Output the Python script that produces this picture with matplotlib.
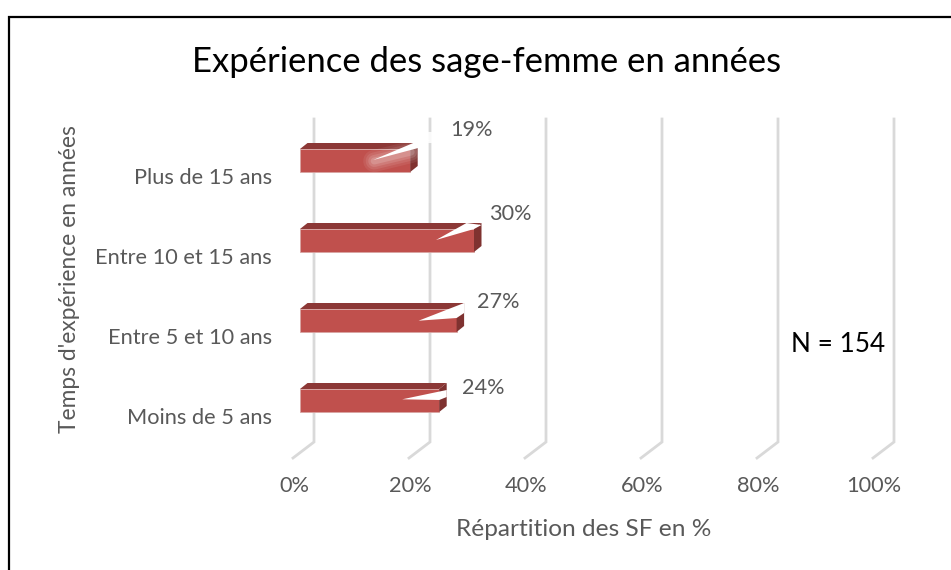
import matplotlib
matplotlib.use("Agg")
import matplotlib.pyplot as plt
from matplotlib.patches import Polygon, Rectangle
from matplotlib.transforms import Affine2D, blended_transform_factory

plt.rcParams['font.family'] = ['Lato', 'DejaVu Sans']

categories = ["Moins de 5 ans", "Entre 5 et 10 ans", "Entre 10 et 15 ans", "Plus de 15 ans"]
values = [24, 27, 30, 19]
x_ticks = [0, 20, 40, 60, 80, 100]
title = "Expérience des sage-femme en années"
xlabel = "Répartition des SF en %"
ylabel = "Temps d'expérience en années"
note = "N = 154"

W, H = 951, 570
PX_PER_PCT = 5.8
PX_PER_CAT = 80
X0_PX = 300          # pixel of 0 % on bar front
Y0_PX = 400.5        # pixel of first category centre
BAR_H_PX = 23
DX, DY = 7.5, 6      # bar depth (right, up)

fig = plt.figure(figsize=(W/100, H/100), dpi=100, facecolor='white')
ax = fig.add_axes([0, 0, 1, 1])
ax.set_xlim(-X0_PX/PX_PER_PCT, (W-X0_PX)/PX_PER_PCT)
ax.set_ylim((Y0_PX-H)/PX_PER_CAT, Y0_PX/PX_PER_CAT)
ax.patch.set_alpha(0)
for s in ax.spines.values():
    s.set_visible(False)


def off(dx, dy):
    """Data transform shifted by dx, dy pixels (dy up)."""
    return ax.transData + Affine2D().translate(dx, dy)


pix = Affine2D()

# Chart frame: only the top and left edges fall inside the picture
ax.plot([8.5, 8.5, W], [0, H-16.5, H-16.5], transform=pix, color='black', lw=1.6,
        solid_joinstyle='miter', zorder=0)

# floor + back wall grid lines, stepped from the percent scale
GRID = '#d9d9d9'
BACK_DX, FRONT_DX = 14, -7
BASE_PX = H - 442
FRONT_PX = H - 458
TOP_PX = H - 119
for t in x_ticks:
    x, _ = ax.transData.transform((t, 0))
    ax.plot([x+BACK_DX, x+BACK_DX, x+FRONT_DX], [TOP_PX, BASE_PX, FRONT_PX],
            transform=pix, color=GRID, lw=2.0, solid_joinstyle='miter', zorder=1)

# Bars
HALF = BAR_H_PX/2/PX_PER_CAT
bar_h = BAR_H_PX/PX_PER_CAT
FRONT, TOP, SIDE = '#c0504d', '#8c3836', '#7f3230'
ax.barh(range(len(values)), values, height=bar_h, color=FRONT, edgecolor='#d9a5a3',
        linewidth=0.6, zorder=3)
for i, v in enumerate(values):
    x_end, y_top = ax.transData.transform((v, i+HALF))
    x_start, y_bot = ax.transData.transform((0, i-HALF))
    ax.add_patch(Polygon([(x_start, y_top), (x_end, y_top), (x_end+DX, y_top+DY), (x_start+DX, y_top+DY)],
                         transform=pix, fc=TOP, ec='none', zorder=3))
    ax.add_patch(Polygon([(x_end, y_top), (x_end+DX, y_top+DY), (x_end+DX, y_bot+DY), (x_end, y_bot)],
                         transform=pix, fc=SIDE, ec='none', zorder=3))

# Data label leaders: offsets in px from the front-top corner of each bar end (dy up)
leaders = {
    3: [(-37, -11), (3, 6), (20, 9), (8, 1)],
    2: [(-38, -11), (-7.5, 6), (7.5, 4), (0, 0)],
    1: [(-38, -11.7), (7.5, 6), (7.5, -4), (0, -9)],
    0: [(-37, -10.3), (7.5, -1), (7.5, -8), (0, -11)],
}
for i, pts in leaders.items():
    x_end, y_top = ax.transData.transform((values[i], i+HALF))
    ax.add_patch(Polygon([(x_end+a, y_top+b) for a, b in pts], transform=pix,
                         fc='white', ec='none', zorder=5))

# glow on the top bar
x_end, y_top = ax.transData.transform((values[3], 3+HALF))
for lw, al in [(22, .07), (17, .09), (12, .12), (7, .16)]:
    ax.plot([x_end-36, x_end+1], [y_top-12, y_top-3], transform=pix, color='white',
            lw=lw*0.72, alpha=al, solid_capstyle='round', zorder=4)
ax.add_patch(Rectangle((x_end+14, y_top+6), 8, 11, transform=pix, fc='white', ec='none', alpha=.85, zorder=4))

# data labels
label_off = [(44, 1.5), (41.5, 6.5), (36, 15.5), (61, 18.5)]
TXT = '#595959'
for i, v in enumerate(values):
    x_end, y_top = ax.transData.transform((v, i+HALF))
    ax.text(x_end+label_off[i][0], y_top+label_off[i][1], f"{v}%", transform=pix,
            ha='center', va='center', fontsize=15.6, color=TXT, zorder=6)

# ticks
ax.set_xticks(x_ticks, [f"{t}%" for t in x_ticks])
ax.set_yticks(range(len(categories)), categories)
ax.tick_params(axis='both', length=0, labelsize=15.7, labelcolor=TXT, pad=0)
for lab in ax.get_yticklabels():
    lab.set_transform(off(-28, -18))
    lab.set_ha('right')
    lab.set_va('center')
xt = blended_transform_factory(off(FRONT_DX+1, 0), Affine2D().translate(0, H-485.5))
for lab in ax.get_xticklabels():
    lab.set_transform(xt)
    lab.set_ha('center')
    lab.set_va('center')

fig.text(486.5/W, 1-62.5/H, title, fontsize=24.9, color='black', ha='center', va='center', zorder=7)
fig.text(584/W, 1-530/H, xlabel, fontsize=17.6, color=TXT, ha='center', va='center')
fig.text(70/W, 1-279/H, ylabel, fontsize=16.4, color=TXT, rotation=90, ha='center', va='center')
fig.text(838/W, 1-345/H, note, fontsize=18.8, color='black', ha='center', va='center', zorder=7)

fig.savefig('out.png', dpi=100, facecolor='white')
